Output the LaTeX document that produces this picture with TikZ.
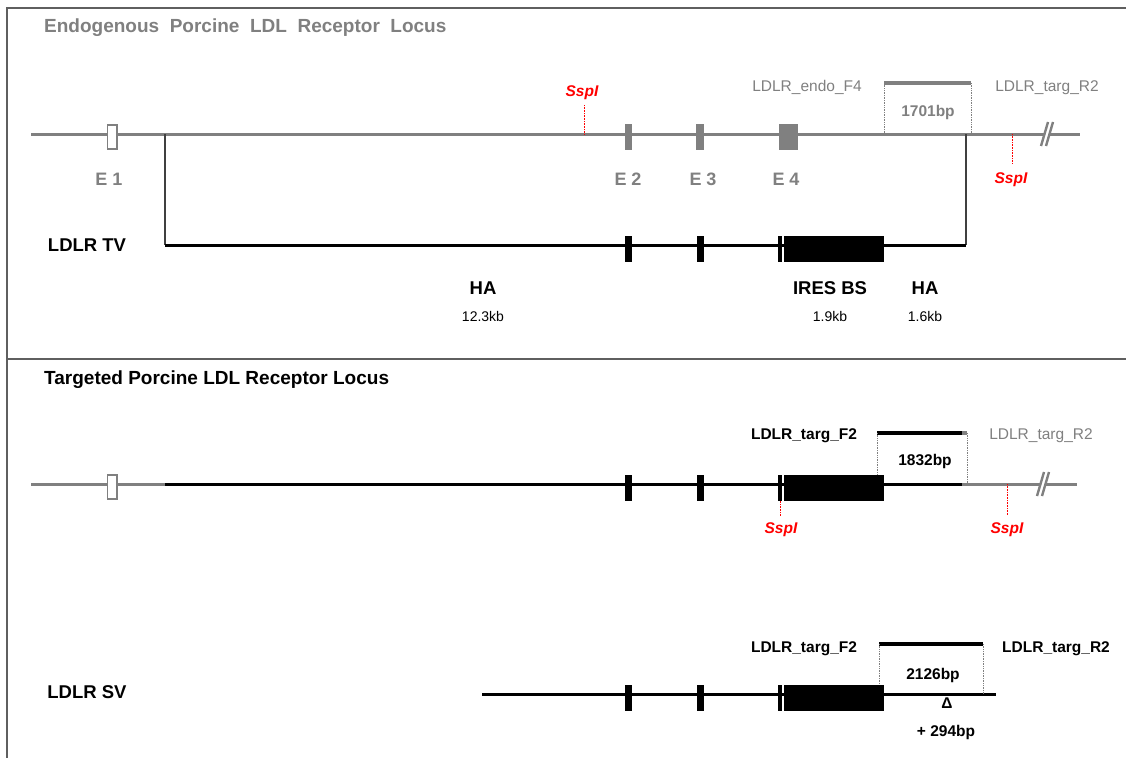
\documentclass[tikz,border=0pt]{standalone}
\usepackage{fontspec}
\setmainfont{Liberation Sans}
\usetikzlibrary{positioning,calc}
\definecolor{locgray}{RGB}{128,128,128}
\definecolor{frgray}{RGB}{95,95,95}
\definecolor{sspred}{RGB}{255,0,0}

\begin{document}
\begin{tikzpicture}[
      x=1pt, y=-1pt,
      every node/.style={inner sep=0pt, anchor=mid},
      frame/.style={frgray, line width=1.3pt},
      locus/.style={locgray, line width=3pt},
      tvline/.style={black, line width=3pt},
      conn/.style={black!75, line width=1.3pt},
      primer/.style={line width=4pt},
      dots/.style={locgray, densely dotted, line width=0.7pt},
      sspline/.style={sspred, densely dotted, line width=0.6pt},
      brk/.style={locgray, line width=2.4pt},
      exE1/.style={draw=locgray, fill=white, line width=1.5pt,
                   minimum width=9.5pt, minimum height=24pt},
      exG/.style={fill=locgray, minimum width=7.5pt, minimum height=26pt},
      exB/.style={fill=black, minimum width=7pt, minimum height=26pt},
      exthin/.style={fill=black, minimum width=3.5pt, minimum height=26pt},
      ires/.style={fill=black, minimum width=100.5pt, minimum height=26pt},
      txt/.style={yshift=-3pt},
      ttl/.style={txt, font=\fontsize{19}{22}\selectfont\bfseries, anchor=mid west},
      exlbl/.style={txt, font=\fontsize{18}{21}\selectfont\bfseries, text=locgray},
      big/.style={txt, font=\fontsize{18.5}{22}\selectfont\bfseries},
      kb/.style={txt, font=\fontsize{14}{16}\selectfont},
      prm/.style={txt, font=\fontsize{15.5}{18}\selectfont},
      bp/.style={txt, font=\fontsize{15.5}{18}\selectfont\bfseries},
      ssp/.style={txt, font=\fontsize{15.5}{18}\selectfont\bfseries\itshape, text=sspred}
    ]
    \useasboundingbox (0,0) rectangle (1126,758);

    % frame and divider
    \draw[frame] (1126,8) -- (7,8) -- (7,758);
    \draw[frame] (7,359) -- (1126,359);

    % ---------- endogenous locus ----------
    \node[ttl, text=locgray] (title1) at (44,27)
      {Endogenous\ \ Porcine\ \ LDL\ \ Receptor\ \ Locus};

    \coordinate (L1a) at (31,134);
    \coordinate (L1b) at (1080,134);
    \coordinate (ta)  at (165,245);
    \coordinate (tb)  at (966,245);
    \draw[locus] (L1a) -- (L1b);
    \draw[conn] (ta |- L1a) -- (ta);
    \draw[conn] (tb |- L1a) -- (tb);
    \draw[tvline] (ta) -- (tb);

    % exons
    \node[exE1] (e1) at (112,134.5) {};
    \node[exG] (e2) at (628.5,134.5) {};
    \node[exG] (e3) at (700,134.5) {};
    \node[exG, minimum width=19pt] (e4) at (788.5,134.5) {};
    \foreach \n/\x in {1/109, 2/628, 3/703, 4/786} {
      \node[exlbl] (e\n lbl) at (\x,180) {E \n};
    }

    % SspI sites
    \draw[sspline] (584,105) -- (584,134);
    \node[ssp] (ssp1) at (582,91) {SspI};
    \draw[sspline] (1012,134) -- (1012,163);
    \node[ssp] (ssp2) at (1011,178) {SspI};

    % PCR product
    \draw[primer, locgray] (884,83) coordinate (p1a) -- (971,83) coordinate (p1b);
    \draw[dots] (p1a) -- (p1a |- L1a);
    \draw[dots] (p1b) -- (p1b |- L1a);
    \node[prm, text=locgray] (f4) at (807,86) {LDLR\_endo\_F4};
    \node[prm, text=locgray] (r2a) at (1047,86) {LDLR\_targ\_R2};
    \node[bp, text=locgray] (bp1) at (928,111) {1701bp};

    % ---------- targeting vector ----------
    \node[big] (tvlbl) at (87,246) {LDLR TV};

    % ---------- targeted locus ----------
    \node[ttl] (title2) at (44,379) {Targeted Porcine LDL Receptor Locus};
    \coordinate (L2a) at (31,484);
    \coordinate (g2)  at (165,484);
    \coordinate (g3)  at (962,484);
    \coordinate (L2b) at (1077,484);
    \draw[locus] (L2a) -- (g2);
    \draw[locus] (g3) -- (L2b);
    \draw[tvline] (g2) -- (g3);
    \node[exE1] (t1) at (112,484.5) {};

    % ---------- splice variant ----------
    \node[big] (svlbl) at (87,693) {LDLR SV};
    \coordinate (L3a) at (482,694);
    \coordinate (L3b) at (996,694);
    \draw[tvline] (L3a) -- (L3b);

    % black exons and IRES BS cassette, one row per construct
    \foreach \row/\y in {tv/246, tg/485, sv/695} {
      \node[exB] (\row-e2) at (628.5,\y) {};
      \node[exB] (\row-e3) at (700,\y) {};
      \node[exthin] (\row-t) at (780,\y) {};
      \node[ires] (\row-i) at (834,\y) {};
    }

    % region labels
    \node[big] (ha1) at (483,289) {HA};
    \node[kb, below=13pt of ha1] (ha1kb) {12.3kb};
    \node[big] (ireslbl) at (830,289) {IRES BS};
    \node[kb, below=13pt of ireslbl] (ireskb) {1.9kb};
    \node[big] (ha2) at (925,289) {HA};
    \node[kb, below=13pt of ha2] (ha2kb) {1.6kb};

    % break marks
    \foreach \bx/\by in {1047/134, 1043/484} {
      \fill[white] (\bx-3.7,\by+4) -- (\bx+1.3,\by+4) -- (\bx+3.7,\by-4)
        -- (\bx-1.3,\by-4) -- cycle;
      \draw[brk] (\bx-6,\by+12) -- (\bx+1,\by-12);
      \draw[brk] (\bx-1,\by+12) -- (\bx+6,\by-12);
    }

    % SspI sites, targeted locus
    \draw[sspline] (tg-t.south) -- ++(0,15);
    \node[ssp] (ssp3) at (781,528) {SspI};
    \draw[sspline] (1007,484) -- (1007,515);
    \node[ssp] (ssp4) at (1007,528) {SspI};

    % PCR product, targeted locus
    \draw[primer] (877,433) coordinate (p2a) -- (962,433);
    \draw[primer, locgray] (962,433) -- (967,433) coordinate (p2b);
    \draw[dots] (p2a) -- (p2a |- tg-i.north);
    \draw[dots] (p2b) -- (p2b |- L2a);
    \node[bp] (f2a) at (804,434) {LDLR\_targ\_F2};
    \node[prm, text=locgray] (r2b) at (1041,434) {LDLR\_targ\_R2};
    \node[bp] (bp2) at (925,460) {1832bp};

    % PCR product, splice variant
    \draw[primer] (879,644) coordinate (p3a) -- (983,644) coordinate (p3b);
    \draw[dots] (p3a) -- (p3a |- sv-i.north);
    \draw[dots] (p3b) -- (p3b |- L3a);
    \node[bp] (f2b) at (804,647) {LDLR\_targ\_F2};
    \node[bp] (r2c) at (1056,647) {LDLR\_targ\_R2};
    \node[bp] (bp3) at (933,674) {2126bp};
    \node[bp] (del) at (947,703) {Δ};
    \node[bp] (ins) at (946,731) {+ 294bp};
  \end{tikzpicture}
\end{document}
